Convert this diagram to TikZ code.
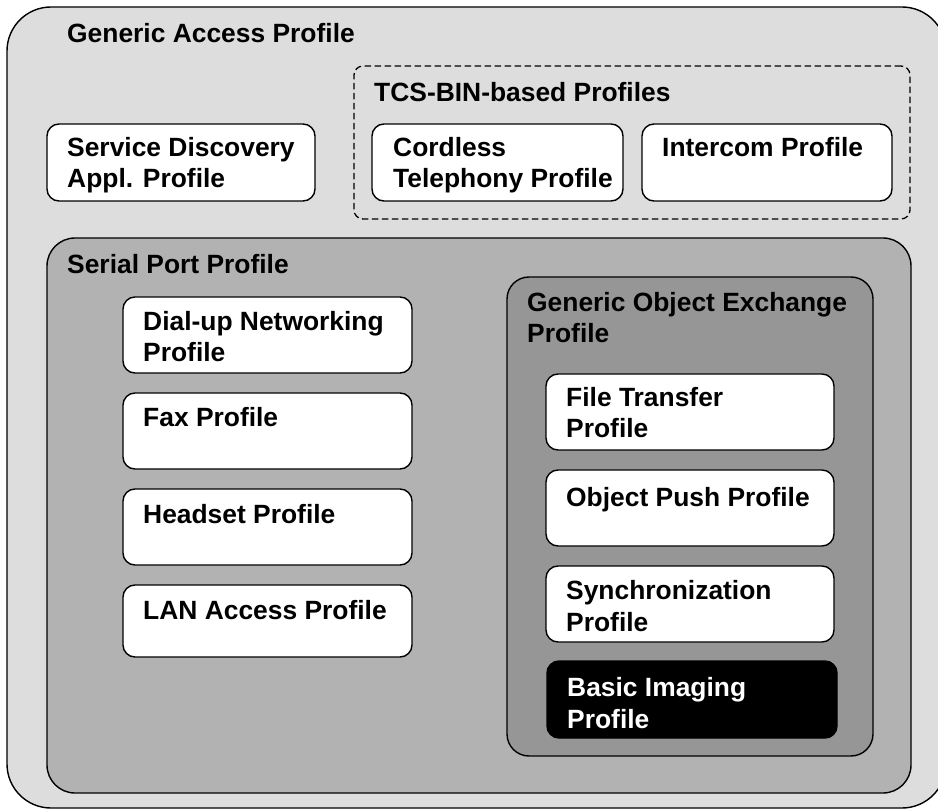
\documentclass[tikz,border=0pt]{standalone}
\usepackage{fontspec}
\setmainfont{Liberation Sans}
\usetikzlibrary{fit}
\definecolor{gapgray}{RGB}{221,221,221}
\definecolor{sppgray}{RGB}{178,178,178}
\definecolor{goepgray}{RGB}{150,150,150}
\begin{document}
\begin{tikzpicture}[x=1pt,y=-1pt,
  lbl/.style={anchor=base west, inner sep=0pt, align=left,
    font=\bfseries\fontsize{26.4}{31.4}\selectfont},
  region/.style={draw=black, line width=1.4pt, inner sep=0pt},
  profbox/.style={draw=black, fill=white, line width=1.4pt, inner sep=0pt, rounded corners=12pt},
  groupbox/.style={draw=black, dash pattern=on 6.5pt off 3.5pt, line width=1.3pt, inner sep=0pt, rounded corners=9pt}
]
\useasboundingbox (0,0) rectangle (938,810);
\clip (0,0) rectangle (938,810);
\fill[white] (0,0) rectangle (938,810);

% Generic Access Profile
\node[region, fill=gapgray, rounded corners=44pt, fit={(7,7) (946,808)}] (gap) {};
\node[lbl] (gapt) at (67,43) {Generic Access Profile};

% TCS-BIN group
\node[groupbox, fit={(354,66) (910,219)}] (tcs) {};
\node[lbl] (tcst) at (374,102) {TCS-BIN-based Profiles};

\node[profbox, fit={(47,124) (315,201)}] (sdap) {};
\node[lbl] (sdapt) at (67,188) {Service Discovery\\Appl. Profile};

\node[profbox, fit={(372,124) (623,201)}] (ctp) {};
\node[lbl] (ctpt) at (393,188) {Cordless\\Telephony Profile};

\node[profbox, fit={(642,124) (892,201)}] (icp) {};
\node[lbl] (icpt) at (662,157) {Intercom Profile};

% Serial Port Profile
\node[region, fill=sppgray, rounded corners=28pt, fit={(47,238) (911,793)}] (spp) {};
\node[lbl] (sppt) at (67,274) {Serial Port Profile};

\node[profbox, fit={(123,297) (412,373)}] (dun) {};
\node[lbl] (dunt) at (143,362) {Dial-up Networking\\Profile};

\node[profbox, fit={(123,393) (412,469)}] (fax) {};
\node[lbl] (faxt) at (143,427) {Fax Profile};

\node[profbox, fit={(123,489) (412,565)}] (hsp) {};
\node[lbl] (hspt) at (143,523) {Headset Profile};

\node[profbox, fit={(123,585) (412,657)}] (lap) {};
\node[lbl] (lapt) at (143,619) {LAN Access Profile};

% Generic Object Exchange Profile
\node[region, fill=goepgray, rounded corners=22pt, fit={(507,277) (873,756)}] (goep) {};
\node[lbl] (goept) at (527,343) {Generic Object Exchange\\Profile};

\node[profbox, fit={(546,374) (834,450)}] (ftp) {};
\node[lbl] (ftpt) at (566,438) {File Transfer\\Profile};

\node[profbox, fit={(546,470) (834,546)}] (opp) {};
\node[lbl] (oppt) at (566,507) {Object Push Profile};

\node[profbox, fit={(546,566) (834,642)}] (sync) {};
\node[lbl] (synct) at (566,631) {Synchronization\\Profile};

\node[profbox, fill=black, fit={(547,661) (837,738)}] (bip) {};
\node[lbl, text=white] (bipt) at (567,728) {Basic Imaging\\Profile};
\end{tikzpicture}
\end{document}
